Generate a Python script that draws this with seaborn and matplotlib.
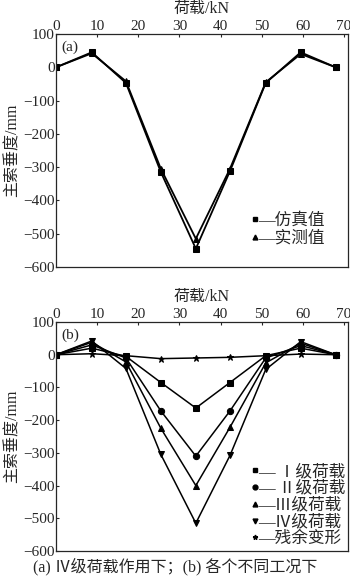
import numpy as np
import pandas as pd
import matplotlib
matplotlib.use("Agg")
import matplotlib.pyplot as plt
import seaborn as sns

sns.set_style("ticks")
plt.rcParams['font.family'] = ['Liberation Serif', 'Noto Sans CJK SC']
plt.rcParams['axes.unicode_minus'] = False

# ---- data ----
load = [0, 8.7, 17, 25.5, 34, 42.3, 51, 59.5, 68]
sim_a = [0, 45, -47, -315, -545, -312, -47, 45, 0]
meas_a = [0, 42, -42, -305, -515, -305, -45, 40, 0]

lvl1 = [0, 20, -5, -85, -163, -85, -3, 20, 0]
lvl2 = [0, 30, -10, -172, -310, -172, -10, 28, 0]
lvl3 = [0, 38, -22, -225, -400, -222, -25, 35, 0]
lvl4 = [0, 42, -42, -305, -515, -308, -45, 40, 0]
resid = [0, 3, -3, -12, -10, -8, -3, 2, 0]

labels_a = ['—仿真值', '—实测值']
labels_b = ['— Ⅰ级荷载', '— Ⅱ级荷载', '—Ⅲ级荷载', '—Ⅳ级荷载', '—残余变形']
xticks = [0, 10, 20, 30, 40, 50, 60, 70]
yticks = [100, 0, -100, -200, -300, -400, -500, -600]

fig = plt.figure(figsize=(3.5, 5.78), dpi=100)
ax1 = fig.add_axes([56/350, 1-267/578, (348-56)/350, (267-34)/578])
ax2 = fig.add_axes([56/350, 1-551/578, (348-56)/350, (551-322)/578])

def style(ax, tag):
    ax.set_xlim(0, 71)
    ax.set_ylim(-600, 100)
    ax.set_xticks(xticks)
    ax.set_yticks(yticks)
    ax.set_yticklabels([str(v).replace('-', '−') for v in yticks])
    ax.xaxis.tick_top()
    ax.xaxis.set_label_position('top')
    ax.tick_params(direction='in', length=2, width=0.8, labelsize=11, pad=1,
                   top=True, bottom=False, left=True, right=False)
    for s in ax.spines.values():
        s.set_linewidth(0.9)
        s.set_visible(True)
    ax.set_xlabel('荷载/kN', fontsize=11.5, labelpad=5)
    ax.set_ylabel('主索垂度/mm', fontsize=11.5, labelpad=2)
    ax.text(0.02, 0.97, tag, transform=ax.transAxes, fontsize=11, va='top', ha='left')

# panel a
for y, m in [(sim_a, 's'), (meas_a, '^')]:
    df = pd.DataFrame({'x': load, 'y': y})
    sns.lineplot(data=df, x='x', y='y', ax=ax1, color='black', marker=m,
                 markersize=4.5, linewidth=1.3, markeredgecolor='black')
style(ax1, '(a)')
h = [plt.Line2D([], [], ls='none', marker=m, color='black', markersize=3.5) for m in ['s', '^']]
ax1.legend(h, labels_a, loc='lower left', bbox_to_anchor=(0.64, 0.052), frameon=False,
           fontsize=12, handlelength=0.4, handletextpad=0.0, labelspacing=0.1, borderpad=0.0)

# panel b
series_b = [(lvl1, 's'), (lvl2, 'o'), (lvl3, '^'), (lvl4, 'v'), (resid, '*')]
for y, m in series_b:
    df = pd.DataFrame({'x': load, 'y': y})
    sns.lineplot(data=df, x='x', y='y', ax=ax2, color='black', marker=m,
                 markersize=4.5, linewidth=1.1, markeredgecolor='black')
style(ax2, '(b)')
h = [plt.Line2D([], [], ls='none', marker=m, color='black', markersize=3.5) for _, m in series_b]
ax2.legend(h, labels_b, loc='lower left', bbox_to_anchor=(0.64, -0.02), frameon=False,
           fontsize=12, handlelength=0.4, handletextpad=0.0, labelspacing=0.05, borderpad=0.0)

fig.text(0.5, 1-567/578, '(a) Ⅳ级荷载作用下；(b) 各个不同工况下', ha='center', va='center', fontsize=11.5)

fig.savefig('out.png', dpi=100)
